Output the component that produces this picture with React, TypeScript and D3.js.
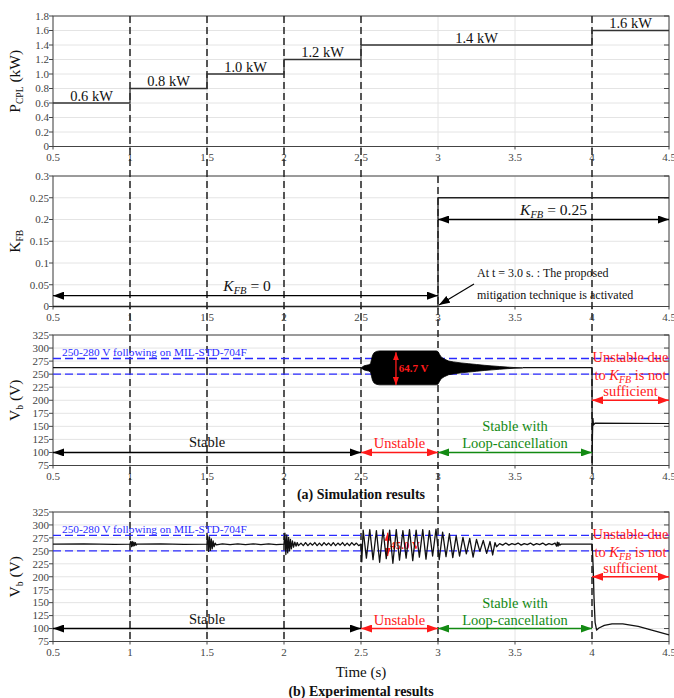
import React from 'react';
import * as d3 from 'd3';

// ---------- data ----------
const xTicks = [0.5, 1, 1.5, 2, 2.5, 3, 3.5, 4, 4.5];
const xTickLabels = ['0.5', '1', '1.5', '2', '2.5', '3', '3.5', '4', '4.5'];

const pclTicks = [0, 0.2, 0.4, 0.6, 0.8, 1.0, 1.2, 1.4, 1.6, 1.8];
const pclTickLabels = ['0', '0.2', '0.4', '0.6', '0.8', '1.0', '1.2', '1.4', '1.6', '1.8'];
const pclStepTimes = [0.5, 1, 1.5, 2, 2.5, 4, 4.5];
const pclStepValues = [0.6, 0.8, 1.0, 1.2, 1.4, 1.6];
const pclStepLabels = ['0.6 kW', '0.8 kW', '1.0 kW', '1.2 kW', '1.4 kW', '1.6 kW'];

const kfbTicks = [0, 0.05, 0.1, 0.15, 0.2, 0.25, 0.3];
const kfbTickLabels = ['0', '0.05', '0.1', '0.15', '0.2', '0.25', '0.3'];
const kfbStepTimes = [0.5, 3, 4.5];
const kfbStepValues = [0, 0.25];

const vbTicks = [75, 100, 125, 150, 175, 200, 225, 250, 275, 300, 325];
const vbTickLabels = ['75', '100', '125', '150', '175', '200', '225', '250', '275', '300', '325'];
const milStdBand = [250, 280];

const simCenter = 262;
const simLineBefore: [number, number][] = [[0.5, 262.5], [2.5, 262.5]];
const simEnvTimes = [2.5, 2.52, 2.55, 2.562, 2.568, 2.575, 2.585, 2.6, 2.62, 2.99, 3.0, 3.01, 3.02, 3.04, 3.07, 3.1, 3.15, 3.2, 3.25, 3.3, 3.35, 3.4, 3.45, 3.5, 3.55];
const simEnvAmps = [0, 4, 6, 8, 16, 24, 29, 31.5, 32.5, 32.5, 31, 26, 21, 17, 13, 11.5, 9.5, 8, 6.5, 5, 3.8, 2.6, 1.5, 0.6, 0];
const simLineAfter: [number, number][] = [[3.55, 262.5], [4.0, 262.5], [4.001, 76], [4.003, 130], [4.006, 166], [4.01, 153], [4.02, 156], [4.5, 155.5]];

const expSignal: [number, number][] = [
  [0.5, 263], [0.7, 263.5], [0.9, 262.5], [1.0, 263],
  [1.005, 268], [1.01, 258], [1.015, 268], [1.02, 259], [1.025, 267], [1.03, 260], [1.035, 266], [1.04, 261], [1.045, 263],
  [1.2, 263.5], [1.35, 262.5], [1.5, 263],
  [1.504, 279], [1.51, 249], [1.516, 277], [1.522, 251], [1.528, 273], [1.534, 254], [1.54, 269], [1.546, 258], [1.553, 265], [1.56, 261.5],
  [1.6, 263.5], [1.65, 262], [1.7, 263.5], [1.75, 262], [1.8, 263.5], [1.85, 262], [1.9, 263.5], [1.95, 262], [2.0, 263],
  [2.006, 284], [2.012, 243], [2.018, 281], [2.024, 246], [2.03, 276], [2.036, 250], [2.042, 272], [2.048, 254], [2.055, 269], [2.062, 257], [2.07, 267], [2.078, 259], [2.086, 266], [2.094, 260],
  [2.11, 265], [2.125, 260], [2.14, 266], [2.155, 260], [2.17, 265], [2.185, 261], [2.2, 266], [2.215, 260], [2.23, 265], [2.245, 260], [2.26, 266], [2.275, 261], [2.29, 265], [2.305, 260], [2.32, 266], [2.335, 260], [2.35, 265], [2.365, 261], [2.38, 266], [2.395, 260], [2.41, 265], [2.425, 260], [2.44, 266], [2.455, 261], [2.47, 265], [2.485, 260], [2.5, 263],
  [2.505, 229], [2.514, 290], [2.535, 236], [2.557, 291], [2.578, 233], [2.6, 289], [2.621, 228], [2.643, 291], [2.664, 235], [2.686, 290], [2.707, 226], [2.729, 291], [2.75, 232], [2.772, 289], [2.793, 236], [2.815, 291], [2.836, 231], [2.858, 290], [2.879, 238], [2.901, 291], [2.922, 234], [2.944, 289], [2.965, 240], [2.987, 292],
  [3.008, 233], [3.03, 286], [3.052, 239], [3.074, 283], [3.096, 237], [3.118, 279], [3.14, 240], [3.162, 276], [3.184, 244], [3.206, 274], [3.228, 238], [3.25, 272], [3.272, 249], [3.294, 270], [3.316, 245], [3.338, 268], [3.355, 242], [3.37, 266], [3.38, 258],
  [3.4, 264], [3.42, 261], [3.44, 265], [3.46, 261], [3.48, 264], [3.5, 262], [3.52, 265], [3.54, 261], [3.56, 264], [3.58, 262], [3.6, 265], [3.62, 261], [3.64, 264], [3.66, 262], [3.68, 265], [3.7, 261], [3.72, 264], [3.74, 262], [3.76, 265], [3.77, 259], [3.775, 267], [3.78, 259], [3.785, 266], [3.79, 261], [3.8, 263], [4.0, 263],
  [4.003, 250], [4.008, 215], [4.013, 160], [4.02, 112], [4.03, 97], [4.045, 101], [4.08, 106], [4.13, 109], [4.2, 109], [4.3, 104], [4.4, 96], [4.5, 88],
];

const eventTimes = [1, 1.5, 2, 2.5, 4];
const activationTime = 3;

// ---------- layout ----------
const W = 674;
const H = 698;
const L = 53;
const R = 669;
const FONT = "'Liberation Serif', 'Times New Roman', 'DejaVu Serif', serif";
const BLUE = '#2a2aff';
const RED = '#ff1a1a';
const GREEN = '#138a13';

const x = d3.scaleLinear().domain([0.5, 4.5]).range([L, R]);

const p1 = { top: 16, bottom: 146.5 };
const p2 = { top: 176, bottom: 306.5 };
const p3 = { top: 335, bottom: 465.5 };
const p4 = { top: 512, bottom: 641.5 };

const y1 = d3.scaleLinear().domain([0, 1.8]).range([p1.bottom, p1.top]);
const y2 = d3.scaleLinear().domain([0, 0.3]).range([p2.bottom, p2.top]);
const y3 = d3.scaleLinear().domain([75, 325]).range([p3.bottom, p3.top]);
const y4 = d3.scaleLinear().domain([75, 325]).range([p4.bottom, p4.top]);

function Axes({ y, ticks, labels, top, bottom }: any) {
  return (
    <g>
      {ticks.map((t: number, i: number) => (
        <line key={'gh' + i} x1={L} x2={R} y1={y(t)} y2={y(t)} stroke="#e4e4e4" strokeWidth={1} />
      ))}
      {xTicks.map((t, i) => (
        <line key={'gv' + i} x1={x(t)} x2={x(t)} y1={top} y2={bottom} stroke="#e4e4e4" strokeWidth={1} />
      ))}
      {ticks.map((t: number, i: number) => (
        <g key={'yt' + i}>
          <line x1={L - 4} x2={L} y1={y(t)} y2={y(t)} stroke="#444" />
          <line x1={R - 5} x2={R} y1={y(t)} y2={y(t)} stroke="#444" />
          <text x={L - 4} y={y(t) + 3.8} textAnchor="end" fontSize={11} fill="#444">
            {labels[i]}
          </text>
        </g>
      ))}
      {xTicks.map((t, i) => (
        <g key={'xt' + i}>
          <line x1={x(t)} x2={x(t)} y1={bottom} y2={bottom + 3} stroke="#444" />
          <text x={x(t)} y={bottom + 14} textAnchor="middle" fontSize={11} fill="#444">
            {xTickLabels[i]}
          </text>
        </g>
      ))}
      <rect x={L} y={top} width={R - L} height={bottom - top} fill="none" stroke="#444" strokeWidth={1} />
    </g>
  );
}

function Arrow({ t0, t1, yy, color, id }: any) {
  return (
    <line x1={x(t0)} x2={x(t1)} y1={yy} y2={yy} stroke={color} strokeWidth={1.4}
      markerStart={`url(#${id})`} markerEnd={`url(#${id})`} />
  );
}

function KFB({ x: tx, y: ty, rest, size, color, anchor }: any) {
  return (
    <text x={tx} y={ty} textAnchor={anchor || 'middle'} fontSize={size} fill={color || '#111'}>
      <tspan fontStyle="italic">K</tspan>
      <tspan fontStyle="italic" fontSize={size * 0.68} dy={3}>FB</tspan>
      <tspan dy={-3}>{rest}</tspan>
    </text>
  );
}

function StatusLabels({ y, top }: any) {
  const yy = y(100);
  return (
    <g fontSize={14.5}>
      <Arrow t0={0.5} t1={2.5} yy={yy} color="#000" id="ahBlack" />
      <Arrow t0={2.5} t1={3} yy={yy} color={RED} id="ahRed" />
      <Arrow t0={3} t1={4} yy={yy} color={GREEN} id="ahGreen" />
      <Arrow t0={4} t1={4.5} yy={y(200)} color={RED} id="ahRed" />
      <text x={x(1.5)} y={yy - 5} textAnchor="middle" fill="#111">Stable</text>
      <text x={x(2.75)} y={yy - 4} textAnchor="middle" fill={RED}>Unstable</text>
      <text x={x(3.5)} y={yy - 21} textAnchor="middle" fill={GREEN}>Stable with</text>
      <text x={x(3.5)} y={yy - 4} textAnchor="middle" fill={GREEN}>Loop-cancellation</text>
      <text x={x(4.25)} y={top + 26.5} textAnchor="middle" fill={RED}>Unstable due</text>
      <text x={x(4.25)} y={top + 44.5} textAnchor="middle" fill={RED}>
        <tspan>to </tspan>
        <tspan fontStyle="italic">K</tspan>
        <tspan fontStyle="italic" fontSize={10} dy={3}>FB</tspan>
        <tspan dy={-3}> is not</tspan>
      </text>
      <text x={x(4.25)} y={top + 61} textAnchor="middle" fill={RED}>sufficient</text>
    </g>
  );
}

function MilBand({ y }: any) {
  return (
    <g>
      {milStdBand.map((v, i) => (
        <line key={i} x1={L} x2={R} y1={y(v)} y2={y(v)} stroke={BLUE} strokeWidth={1.3} strokeDasharray="8,4" />
      ))}
      <text x={62} y={y(milStdBand[1]) - 2.5} fontSize={11.3} fill={BLUE}>
        250-280 V following on MIL-STD-704F
      </text>
    </g>
  );
}

function YLabel({ cx, cy, main, sub, rest, subScale }: any) {
  return (
    <text transform={`translate(${cx},${cy}) rotate(-90)`} textAnchor="middle" fontSize={15.5} fill="#111">
      <tspan>{main}</tspan>
      <tspan fontSize={15.5 * (subScale || 0.62)} dy={3}>{sub}</tspan>
      <tspan dy={-3}>{rest}</tspan>
    </text>
  );
}

export default function App() {
  const pclPts: [number, number][] = pclStepValues.map((v, i) => [pclStepTimes[i], v]);
  pclPts.push([pclStepTimes[pclStepTimes.length - 1], pclStepValues[pclStepValues.length - 1]]);
  const pclPath = d3.line<[number, number]>().x(d => x(d[0])).y(d => y1(d[1])).curve(d3.curveStepAfter)(pclPts);

  const kfbPts: [number, number][] = kfbStepValues.map((v, i) => [kfbStepTimes[i], v]);
  kfbPts.push([kfbStepTimes[kfbStepTimes.length - 1], kfbStepValues[kfbStepValues.length - 1]]);
  const kfbPath = d3.line<[number, number]>().x(d => x(d[0])).y(d => y2(d[1])).curve(d3.curveStepAfter)(kfbPts);

  const simLine = d3.line<[number, number]>().x(d => x(d[0])).y(d => y3(d[1]));
  const envArea = d3.area<number>()
    .x((_, i) => x(simEnvTimes[i]))
    .y0((a) => y3(simCenter - a))
    .y1((a) => y3(simCenter + a));
  const expLine = d3.line<[number, number]>().x(d => x(d[0])).y(d => y4(d[1]));

  const marker = (id: string, color: string) => (
    <marker id={id} markerUnits="userSpaceOnUse" markerWidth={11} markerHeight={8} refX={11} refY={4} orient="auto-start-reverse">
      <path d="M0,0 L11,4 L0,8 Z" fill={color} />
    </marker>
  );

  return (
    <svg width={W} height={H} viewBox={`0 0 ${W} ${H}`} fontFamily={FONT}
      style={{ position: 'absolute', left: 0, top: 0, background: '#fff', fontFamily: FONT }}>
      <defs>
        {marker('ahBlack', '#000')}
        {marker('ahRed', RED)}
        {marker('ahGreen', GREEN)}
        <marker id="ahRedS" markerUnits="userSpaceOnUse" markerWidth={8} markerHeight={6} refX={8} refY={3} orient="auto-start-reverse">
          <path d="M0,0 L8,3 L0,6 Z" fill={RED} />
        </marker>
      </defs>
      <rect x={0} y={0} width={W} height={H} fill="#fff" />

      <Axes y={y1} ticks={pclTicks} labels={pclTickLabels} top={p1.top} bottom={p1.bottom} />
      <Axes y={y2} ticks={kfbTicks} labels={kfbTickLabels} top={p2.top} bottom={p2.bottom} />
      <Axes y={y3} ticks={vbTicks} labels={vbTickLabels} top={p3.top} bottom={p3.bottom} />
      <Axes y={y4} ticks={vbTicks} labels={vbTickLabels} top={p4.top} bottom={p4.bottom} />

      {eventTimes.map((t, i) => (
        <line key={'ev' + i} x1={x(t)} x2={x(t)} y1={p1.top} y2={p4.bottom} stroke="#222" strokeWidth={1.5} strokeDasharray="7,4" />
      ))}
      <line x1={x(activationTime)} x2={x(activationTime)} y1={p2.top} y2={p4.bottom} stroke="#222" strokeWidth={1.5} strokeDasharray="7,4" />

      {/* Panel 1 */}
      <path d={pclPath || ''} fill="none" stroke="#333" strokeWidth={1.3} />
      {pclStepLabels.map((s, i) => (
        <text key={'pl' + i} x={x((pclStepTimes[i] + pclStepTimes[i + 1]) / 2)} y={y1(pclStepValues[i]) - 2.5}
          textAnchor="middle" fontSize={14.5} fill="#111">{s}</text>
      ))}
      <YLabel cx={20} cy={(p1.top + p1.bottom) / 2} main="P" sub="CPL" rest=" (kW)" />

      {/* Panel 2 */}
      <path d={kfbPath || ''} fill="none" stroke="#222" strokeWidth={1.3} />
      <Arrow t0={0.5} t1={3} yy={y2(0.025)} color="#000" id="ahBlack" />
      <Arrow t0={3} t1={4.5} yy={y2(0.2)} color="#000" id="ahBlack" />
      <KFB x={x(1.76)} y={y2(0.025) - 5} rest=" = 0" size={15.5} />
      <KFB x={x(3.75)} y={y2(0.2) - 4.5} rest=" = 0.25" size={15.5} />
      <text x={477} y={277} fontSize={12} fill="#111">At t = 3.0 s. : The proposed</text>
      <text x={477} y={299} fontSize={12} fill="#111">mitigation technique is activated</text>
      <line x1={474} y1={284} x2={x(activationTime) + 1} y2={p2.bottom - 1.5} stroke="#000" strokeWidth={1.1} markerEnd="url(#ahBlack)" />
      <YLabel cx={20} cy={(p2.top + p2.bottom) / 2} main="K" sub="FB" rest="" subScale={0.62} />

      {/* Panel 3 */}
      <MilBand y={y3} />
      <path d={simLine(simLineBefore) || ''} fill="none" stroke="#111" strokeWidth={1.2} />
      <path d={envArea(simEnvAmps) || ''} fill="#000" stroke="#000" strokeWidth={0.8} />
      <path d={simLine(simLineAfter) || ''} fill="none" stroke="#111" strokeWidth={1.2} />
      <line x1={x(2.727)} x2={x(2.727)} y1={y3(292)} y2={y3(229)} stroke={RED} strokeWidth={1.3}
        markerStart="url(#ahRedS)" markerEnd="url(#ahRedS)" />
      <text x={x(2.745)} y={y3(261) + 4} fontSize={11} fontWeight="bold" fill={RED}>64.7 V</text>
      <StatusLabels y={y3} top={p3.top} />
      <YLabel cx={20} cy={(p3.top + p3.bottom) / 2} main="V" sub="b" rest=" (V)" />
      <text x={361} y={499} textAnchor="middle" fontSize={14} fontWeight="bold" fill="#111">(a) Simulation results</text>

      {/* Panel 4 */}
      <MilBand y={y4} />
      <text x={x(2.69)} y={y4(262) + 4} fontSize={11} fontWeight="bold" fill={RED}>45.0 V</text>
      <line x1={x(2.673)} x2={x(2.673)} y1={y4(285)} y2={y4(240)} stroke={RED} strokeWidth={1.3}
        markerStart="url(#ahRedS)" markerEnd="url(#ahRedS)" />
      <path d={expLine(expSignal) || ''} fill="none" stroke="#111" strokeWidth={1.3} strokeLinejoin="round" />
      <StatusLabels y={y4} top={p4.top} />
      <YLabel cx={20} cy={(p4.top + p4.bottom) / 2} main="V" sub="b" rest=" (V)" />
      <text x={361} y={677} textAnchor="middle" fontSize={15} fill="#111">Time (s)</text>
      <text x={361} y={696} textAnchor="middle" fontSize={14} fontWeight="bold" fill="#111">(b) Experimental results</text>
    </svg>
  );
}
